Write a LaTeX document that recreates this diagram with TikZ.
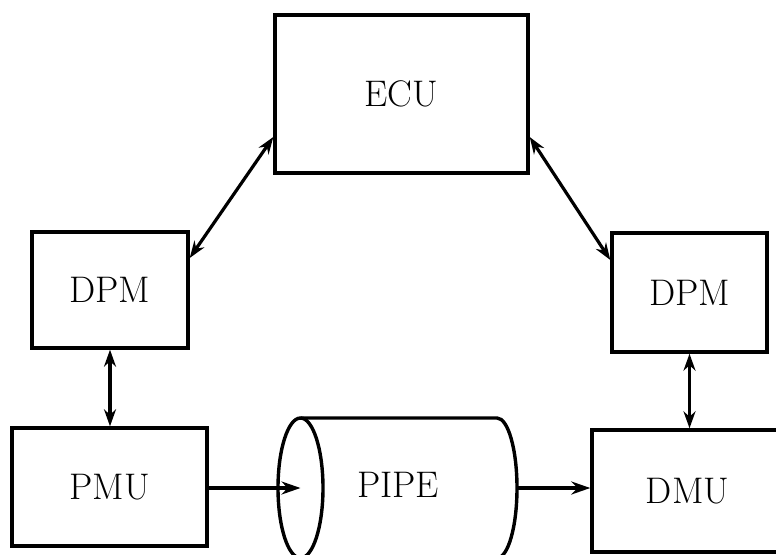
\documentclass[tikz,border=0pt]{standalone}
\usepackage{tikz}
\usetikzlibrary{arrows.meta}

\begin{document}
\begin{tikzpicture}[x = 1pt, y = -1pt,
  unit/.style = {draw, line width = 3.4pt, inner sep = 0pt, font = \fontsize{37}{40}\selectfont},
  link/.style = {line width = 3.2pt, {Stealth[length = 17pt, width = 12pt]}-{Stealth[length = 17pt, width = 12pt]}},
  flow/.style = {line width = 3.2pt, -{Stealth[length = 19pt, width = 13pt]}}]
\useasboundingbox (0, 0) rectangle (776, 554);
\clip (0, 0) rectangle (776, 554);
% boxes
\node[unit, minimum width = 253pt, minimum height = 158pt] (ecu) at (401.5, 94.0){ECU};
\node[unit, minimum width = 156pt, minimum height = 116pt] (dpml) at (110.0, 290.0){DPM};
\node[unit, minimum width = 155pt, minimum height = 119pt] (dpmr) at (689.5, 292.5){DPM};
\node[unit, minimum width = 195pt, minimum height = 118pt] (pmu) at (109.5, 487.0){PMU};
\node[unit, minimum width = 191pt, minimum height = 122pt] (dmu) at (687.5, 491.0){DMU};
% pipe
\coordinate (pipein) at (300.5, 488.0);
\coordinate (pipeout) at (517.0, 488.0);
\draw[line width = 3.4pt] (300.5, 418.0) -- (497.0, 418.0)
  arc [start angle = 90, end angle = -90, x radius = 20pt, y radius = 70pt] -- (300.5, 558.0);
\draw[line width = 3.4pt] (pipein) ellipse [x radius = 22.5pt, y radius = 70pt];
\node[font = \fontsize{37}{40}\selectfont] (pipe) at (398.0, 485.0){PIPE};
% connectors
\draw[link] ([yshift = -43pt]ecu.west) -- ([yshift = 32pt]dpml.east);
\draw[link] ([yshift = -43pt]ecu.east) -- ([yshift = 32.5pt]dpmr.west);
\draw[link] (dpml.south) -- (dpml.south |- pmu.north);
\draw[link] (dpmr.south) -- (dpmr.south |- dmu.north);
\draw[flow] (pmu.east |- pipein) -- (pipein);
\draw[flow] (pipeout) -- (pipeout -| dmu.west);
\end{tikzpicture}
\end{document}
